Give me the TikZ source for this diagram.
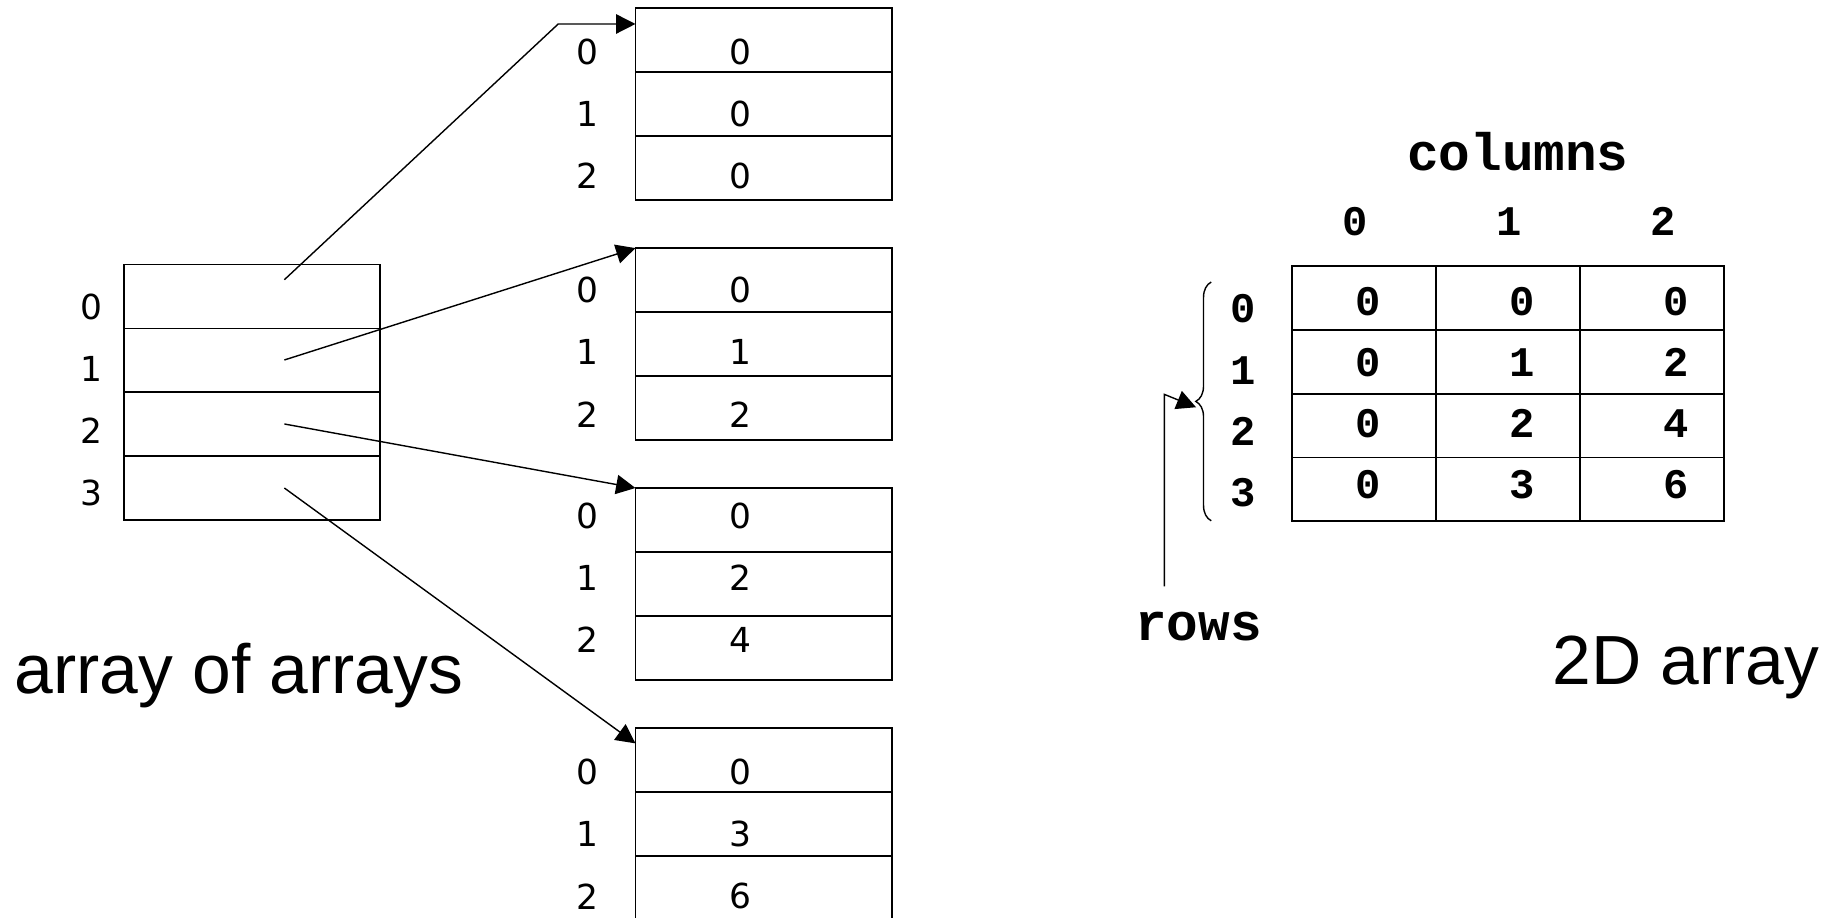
\documentclass[tikz,border=0pt]{standalone}
\usepackage{fontspec}
\setmainfont{Liberation Sans}
\newfontfamily\idxfont{DejaVu Sans}
\newfontfamily\codefont{Liberation Mono}
\usetikzlibrary{arrows.meta,decorations.pathreplacing}

\begin{document}
\begin{tikzpicture}[x=0.011703cm,y=-0.011703cm,line width=0.4pt,
    cell/.style={draw,line width=0.5pt,minimum width=2.563cm,minimum height=0.639cm,inner sep=0,outer sep=0},
    gcell/.style={draw,line width=0.5pt,minimum width=1.44cm,minimum height=0.638cm,inner sep=0,outer sep=0},
    idx/.style={font=\idxfont\fontsize{9.8}{9.8}\selectfont,inner sep=0},
    code/.style={font=\codefont\bfseries\fontsize{12}{12}\selectfont,inner sep=0},
    word/.style={font=\codefont\bfseries\fontsize{15}{15}\selectfont,inner sep=0},
    title/.style={font=\fontsize{19.8}{19.8}\selectfont,inner sep=0},
    ptr/.style={-{Triangle[length=5.5pt,width=5.5pt]}}]
  \useasboundingbox (0,0) rectangle (1568,784);

  \foreach \i in {0,...,3} {
    \node[cell] (ptr\i) at (215.5,{253.3+54.6*\i}) {};
    \node[idx] (pidx\i) at (78,{262+53*\i}) {\i};
  }

  \foreach \k/\top/\lab in {0/7/44,1/212/248,2/417/441,3/622/660} {
    \foreach \j in {0,1,2} {
      \node[cell] (arr\k-\j) at (652.5,{\top+27.3+54.6*\j}) {};
      \node[idx] (aidx\k-\j) at (502,{\lab+53*\j}) {\j};
      \pgfmathtruncatemacro\v{\k*\j}
      \node[idx] (aval\k-\j) at (633,{\lab+53*\j}) {\v};
    }
  }

  \coordinate (s0) at (243,239);
  \coordinate (s1) at (243,307.6);
  \coordinate (s2) at (243,362.3);
  \coordinate (s3) at (243,417);
  \coordinate (bend0) at (477,20.5);
  \draw[ptr] (s0) -- (bend0) -- (bend0 -| arr0-0.west);
  \draw[ptr] (s1) -- (arr1-0.north west);
  \draw[ptr] (s2) -- (arr2-0.north west);
  \draw[ptr] (s3) -- ([yshift=0.165cm]arr3-0.west);

  \node[title,anchor=base west] (aoa) at (12,593) {array of arrays};

  \foreach \r in {0,...,3} {
    \foreach \c in {0,1,2} {
      \node[gcell] (g\r\c) at ({1165.5+123*\c},{254.75+54.5*\r}) {};
      \pgfmathtruncatemacro\v{\r*\c}
      \node[code] (gv\r\c) at ({1169+131.5*\c},{257.5+52.3*\r}) {\v};
    }
    \node[code] (rl\r) at (1062,{264+52.3*\r}) {\r};
  }
  \foreach \c in {0,1,2}
    \node[code] (cl\c) at ({1158+131.5*\c},189) {\c};

  \node[word,anchor=base] (cols) at (1297,146) {columns};
  \node[word,anchor=base] (rows) at (1024,547) {rows};

  \draw[decorate,decoration={brace,amplitude=4.4pt}] (1035,445) -- (1035,241);
  \coordinate (btip) at (1022,348);
  \coordinate (rfoot) at (995,501);
  \coordinate (rbend) at (995,337);
  \draw[ptr] (rfoot) -- (rbend) -- (btip);

  \node[title,anchor=base west] (twod) at (1326,585) {2D array};
\end{tikzpicture}
\end{document}
